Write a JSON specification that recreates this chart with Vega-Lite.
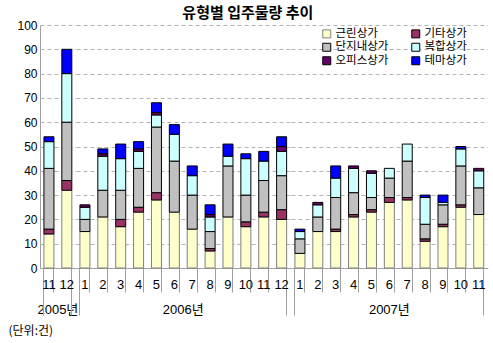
{
  "$schema": "https://vega.github.io/schema/vega-lite/v6.json",
  "padding": {"left": 8, "top": 6, "right": 6, "bottom": 6},
  "background": "white",
  "title": {"text": "유형별 입주물량 추이", "font": "Noto Sans CJK KR", "fontSize": 15, "fontWeight": "bold", "anchor": "middle", "frame": "bounds", "offset": -2, "color": "#000000"},
  "data": {"values": [
    {"year": "2005년", "ym": "2005-11", "근린상가": 14, "기타상가": 2, "단지내상가": 25, "복합상가": 11, "오피스상가": 0, "테마상가": 2},
    {"year": "2005년", "ym": "2005-12", "근린상가": 32, "기타상가": 4, "단지내상가": 24, "복합상가": 20, "오피스상가": 0, "테마상가": 10},
    {"year": "2006년", "ym": "2006-01", "근린상가": 15, "기타상가": 0, "단지내상가": 5, "복합상가": 5, "오피스상가": 1, "테마상가": 0},
    {"year": "2006년", "ym": "2006-02", "근린상가": 21, "기타상가": 0, "단지내상가": 11, "복합상가": 14, "오피스상가": 1, "테마상가": 2},
    {"year": "2006년", "ym": "2006-03", "근린상가": 17, "기타상가": 3, "단지내상가": 12, "복합상가": 13, "오피스상가": 0, "테마상가": 6},
    {"year": "2006년", "ym": "2006-04", "근린상가": 23, "기타상가": 2, "단지내상가": 16, "복합상가": 7, "오피스상가": 1, "테마상가": 3},
    {"year": "2006년", "ym": "2006-05", "근린상가": 28, "기타상가": 3, "단지내상가": 27, "복합상가": 5, "오피스상가": 1, "테마상가": 4},
    {"year": "2006년", "ym": "2006-06", "근린상가": 23, "기타상가": 0, "단지내상가": 21, "복합상가": 11, "오피스상가": 0, "테마상가": 4},
    {"year": "2006년", "ym": "2006-07", "근린상가": 16, "기타상가": 0, "단지내상가": 14, "복합상가": 8, "오피스상가": 0, "테마상가": 4},
    {"year": "2006년", "ym": "2006-08", "근린상가": 7, "기타상가": 1, "단지내상가": 7, "복합상가": 6, "오피스상가": 1, "테마상가": 4},
    {"year": "2006년", "ym": "2006-09", "근린상가": 21, "기타상가": 0, "단지내상가": 21, "복합상가": 4, "오피스상가": 0, "테마상가": 5},
    {"year": "2006년", "ym": "2006-10", "근린상가": 17, "기타상가": 2, "단지내상가": 11, "복합상가": 15, "오피스상가": 0, "테마상가": 2},
    {"year": "2006년", "ym": "2006-11", "근린상가": 21, "기타상가": 2, "단지내상가": 13, "복합상가": 8, "오피스상가": 0, "테마상가": 4},
    {"year": "2006년", "ym": "2006-12", "근린상가": 20, "기타상가": 4, "단지내상가": 14, "복합상가": 10, "오피스상가": 2, "테마상가": 4},
    {"year": "2007년", "ym": "2007-01", "근린상가": 6, "기타상가": 0, "단지내상가": 6, "복합상가": 3, "오피스상가": 0, "테마상가": 1},
    {"year": "2007년", "ym": "2007-02", "근린상가": 15, "기타상가": 0, "단지내상가": 6, "복합상가": 5, "오피스상가": 1, "테마상가": 0},
    {"year": "2007년", "ym": "2007-03", "근린상가": 15, "기타상가": 1, "단지내상가": 13, "복합상가": 8, "오피스상가": 0, "테마상가": 5},
    {"year": "2007년", "ym": "2007-04", "근린상가": 21, "기타상가": 1, "단지내상가": 9, "복합상가": 10, "오피스상가": 1, "테마상가": 0},
    {"year": "2007년", "ym": "2007-05", "근린상가": 23, "기타상가": 1, "단지내상가": 5, "복합상가": 10, "오피스상가": 1, "테마상가": 0},
    {"year": "2007년", "ym": "2007-06", "근린상가": 27, "기타상가": 2, "단지내상가": 8, "복합상가": 4, "오피스상가": 0, "테마상가": 0},
    {"year": "2007년", "ym": "2007-07", "근린상가": 28, "기타상가": 1, "단지내상가": 15, "복합상가": 7, "오피스상가": 0, "테마상가": 0},
    {"year": "2007년", "ym": "2007-08", "근린상가": 11, "기타상가": 1, "단지내상가": 6, "복합상가": 11, "오피스상가": 0, "테마상가": 1},
    {"year": "2007년", "ym": "2007-09", "근린상가": 17, "기타상가": 1, "단지내상가": 8, "복합상가": 1, "오피스상가": 0, "테마상가": 3},
    {"year": "2007년", "ym": "2007-10", "근린상가": 25, "기타상가": 1, "단지내상가": 16, "복합상가": 7, "오피스상가": 0, "테마상가": 1},
    {"year": "2007년", "ym": "2007-11", "근린상가": 22, "기타상가": 0, "단지내상가": 11, "복합상가": 7, "오피스상가": 1, "테마상가": 0}
  ]},
  "transform": [
    {"fold": ["근린상가", "기타상가", "단지내상가", "복합상가", "오피스상가", "테마상가"], "as": ["type", "count"]},
    {"filter": "datum.count > 0"}
  ],
  "facet": {
    "column": {
      "field": "year", "type": "ordinal", "title": null,
      "header": {
        "labelOrient": "bottom",
        "labelFont": "Liberation Sans, Noto Sans CJK KR", "labelFontSize": 13, "labelColor": "#000000", "labelPadding": -12
      }
    }
  },
  "spacing": 0,
  "resolve": {"scale": {"x": "independent"}},
  "spec": {
    "width": {"step": 17.88},
    "height": 243,
    "mark": {"type": "bar", "strokeWidth": 1},
    "encoding": {
      "x": {
        "field": "ym", "type": "ordinal",
        "scale": {"paddingInner": 0.44, "paddingOuter": 0.22},
        "axis": {
          "title": null, "labelAngle": 0,
          "labelExpr": "toNumber(split(datum.label, '-')[1])",
          "bandPosition": 1, "tickExtra": true, "tickSize": 47,
          "tickColor": "#A0A0A0",
          "tickDash": {"condition": {"test": "datum.index < 0 || datum.value === '2005-12' || datum.value === '2006-12' || datum.value === '2007-11'", "value": [60, 0]}, "value": [24, 60]},
          "labelPadding": -37, "domainColor": "#A0A0A0",
          "labelFont": "Liberation Sans", "labelFontSize": 13, "labelColor": "#000000", "grid": false
        }
      },
      "y": {
        "field": "count", "type": "quantitative", "stack": "zero",
        "scale": {"domain": [0, 100]},
        "axis": {
          "title": "(단위:건)", "titleAngle": 0, "titleAlign": "left", "titleBaseline": "middle",
          "titleX": -32, "titleY": 305, "titleFont": "Noto Sans CJK KR", "titleFontSize": 12, "titleFontWeight": "normal", "titleColor": "#000000",
          "tickCount": 10, "grid": true, "gridDash": [4, 3], "gridColor": "#B4B4B4",
          "ticks": false, "labelPadding": 3, "domainColor": "#A0A0A0",
          "labelFont": "Liberation Sans", "labelFontSize": 12, "labelColor": "#000000"
        }
      },
      "color": {
        "field": "type", "type": "nominal",
        "scale": {
          "domain": ["근린상가", "기타상가", "단지내상가", "복합상가", "오피스상가", "테마상가"],
          "range": ["#FFFFCC", "#993366", "#C0C0C0", "#CCFFFF", "#660066", "#0000FF"]
        },
        "legend": {
          "title": null, "orient": "none", "legendX": 281, "legendY": 3, "columns": 2, "direction": "horizontal",
          "symbolType": "square", "symbolSize": 64, "symbolStrokeColor": "#000000", "symbolStrokeWidth": 1,
          "labelFont": "Noto Sans CJK KR", "labelFontSize": 11.5, "labelColor": "#000000",
          "columnPadding": 20, "rowPadding": 0.5, "labelOffset": 3, "padding": 0,
          "encode": {"symbols": {"update": {"stroke": [{"test": "datum.label === '근린상가'", "value": "#808080"}, {"value": "#000000"}]}}}
        }
      },
      "order": {"field": "type", "type": "nominal", "sort": "ascending"},
      "stroke": {"condition": {"test": "datum.type === '근린상가'", "value": "#808080"}, "value": "#000000"}
    }
  },
  "config": {"view": {"stroke": null}}
}
